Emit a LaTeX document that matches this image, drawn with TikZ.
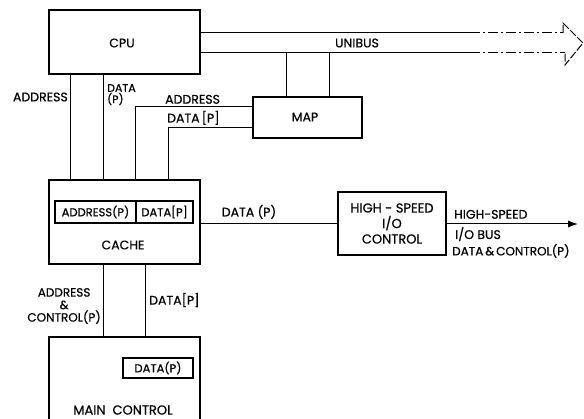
\documentclass[tikz,border=0pt]{standalone}
\usepackage{fontspec}
\setmainfont{Poppins}[FakeBold=0.6]
\usetikzlibrary{arrows.meta,calc}
\begin{document}
\begin{tikzpicture}[x=1pt,y=-1pt,
  blk/.style={draw,line width=1.4pt,rectangle,inner sep=0pt},
  inbox/.style={draw,line width=1.1pt,rectangle,inner sep=0pt,font=\fontsize{11.5}{12}\selectfont},
  wire/.style={line width=1pt},
  lbl/.style={font=\fontsize{12.5}{13}\selectfont,inner sep=0pt},
  dashdot/.style={line width=1pt,dash pattern=on 10pt off 3pt on 2pt off 3pt}]
\useasboundingbox (0,0) rectangle (584,419);
\clip (0,0) rectangle (584,419);
% blocks
\node[blk,minimum width=151pt,minimum height=64pt] (cpu) at (124.5,42) {};
\node[lbl] (cputxt) at (122,43) {CPU};
\node[blk,minimum width=151pt,minimum height=84pt] (cache) at (124.5,222) {};
\node[lbl] (cachetxt) at (123,245) {CACHE};
\node[blk,minimum width=151pt,minimum height=110pt] (main) at (124.5,392) {};
\node[lbl,font=\fontsize{13}{13}\selectfont] (maintxt) at (123,410) {MAIN\ \ CONTROL};
\node[blk,minimum width=109pt,minimum height=41pt] (map) at (307.5,117.5) {};
\node[lbl] (maptxt) at (305,117) {MAP};
\node[blk,minimum width=108pt,minimum height=63pt,align=center,font=\fontsize{13}{15.5}\selectfont] (hsio) at (392,223.5) {HIGH - SPEED\\I/O\\CONTROL};
% inner boxes
\node[inbox,minimum width=81pt,minimum height=22pt] (caddr) at (95.5,212) {ADDRESS(P)};
\node[inbox,minimum width=57pt,minimum height=22pt] (cdata) at (164.5,212) {DATA[P]};
\node[inbox,minimum width=70pt,minimum height=20pt] (mdata) at (158,368) {DATA(P)};
% x positions
\coordinate (xa) at (70,0);
\coordinate (xb) at (103,0);
\coordinate (xc) at (135,107);
\coordinate (xd) at (168,128);
\coordinate (xe) at (286,0);
\coordinate (xf) at (329,0);
\coordinate (xg) at (145,0);
\coordinate (ya) at (0,33);
\coordinate (yb) at (0,53);
% CPU -> cache
\draw[wire] (cpu.south -| xa) -- (cache.north -| xa);
\draw[wire] (cpu.south -| xb) -- (cache.north -| xb);
\node[lbl,anchor=east] (laddr) at (68,97) {ADDRESS};
\node[lbl,anchor=north west,align=left,font=\fontsize{11}{10}\selectfont] (ldata) at (107,84) {DATA\\(P)};
% MAP -> cache
\draw[wire] (map.west |- xc) -- (xc) -- (cache.north -| xc);
\draw[wire] (map.west |- xd) -- (xd) -- (cache.north -| xd);
\node[lbl,anchor=south west] (lmaddr) at (165,104) {ADDRESS};
\node[lbl,anchor=south west] (lmdata) at (167,125) {DATA\,[P]};
% UNIBUS
\coordinate (u1) at (470,33);
\coordinate (u2) at (470,53);
\coordinate (h1) at (563,33);
\coordinate (h2) at (565,53);
\draw[wire] (cpu.east |- ya) -- (u1);
\draw[wire] (cpu.east |- yb) -- (u2);
\draw[dashdot] (u1) -- (h1);
\draw[dashdot] (u2) -- (h2);
\draw[line width=1pt,dash pattern=on 8pt off 2pt] (h1) -- (563,23) -- (583,43) -- (565,65) -- (h2);
\node[lbl] (lunibus) at (357,43) {UNIBUS};
% MAP -> unibus
\draw[wire] (map.north -| xe) -- (xe |- yb);
\draw[wire] (map.north -| xf) -- (xf |- yb);
% cache -> hsio
\draw[wire] (cache.east |- hsio.west) -- (hsio.west);
\node[lbl,anchor=south] (lcdata) at (249,219) {DATA (P)};
% hsio output
\coordinate (out) at (578,224);
\draw[wire,-{Latex[length=10pt,width=7pt]}] (hsio.east |- out) -- (out);
\node[lbl,anchor=south west] (lhs1) at (454,219) {HIGH-SPEED};
\node[lbl,anchor=north west] (lhs2) at (455,227) {I/O BUS};
\node[lbl,anchor=north west,font=\fontsize{12}{12}\selectfont] (lhs3) at (452,244) {DATA\,\&\,CONTROL(P)};
% cache -> main
\draw[wire] (cache.south -| xb) -- (main.north -| xb);
\draw[wire] (cache.south -| xg) -- (main.north -| xg);
\node[lbl,align=center,anchor=east,font=\fontsize{12}{12.5}\selectfont] (lac) at (101,306) {ADDRESS\\\&\\CONTROL(P)};
\node[lbl,anchor=west] (lmd) at (149,300) {DATA[P]};
\end{tikzpicture}
\end{document}
